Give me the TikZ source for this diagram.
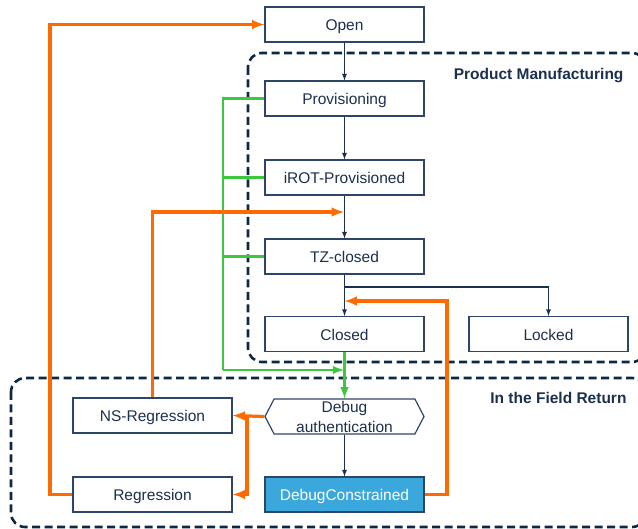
\documentclass[tikz,border=0pt]{standalone}
\usepackage{fontspec}
\setmainfont{Liberation Sans}
\usepackage{xcolor}
\usepackage{tikz}
\usetikzlibrary{shapes.symbols}
\definecolor{navy}{HTML}{1B2F4F}
\definecolor{regionblue}{HTML}{0E2841}
\definecolor{boxblue}{HTML}{2E4468}
\definecolor{stgreen}{HTML}{3CC83C}
\definecolor{storange}{HTML}{FF6A00}
\definecolor{dbgfill}{HTML}{3AA8DC}

\begin{document}
\begin{tikzpicture}[
    x = 1pt, y = -1pt,
    every node/.style = {font=\fontsize{15.5}{20}\selectfont, text=navy},
    box/.style        = {draw=boxblue, line width=1.2pt, minimum width=159pt, minimum height=35pt, inner sep=0pt},
    state/.style      = {box, text height=13pt, text depth=0pt},
    authbox/.style    = {box, shape=signal, signal to=west and east, signal pointer angle=125, align=center},
    region/.style     = {draw=regionblue, line width=2.6pt, dash pattern=on 8pt off 4.5pt, rounded corners=14pt},
    regionlabel/.style= {font=\fontsize{15.5}{19}\selectfont\bfseries, anchor=east},
    flow/.style       = {draw=navy, line width=1.2pt, -latex},
    greenflow/.style  = {draw=stgreen, line width=2.8pt},
    orangeflow/.style = {draw=storange, line width=3.2pt}
  ]
\useasboundingbox (0,0) rectangle (638,529);
\clip (0,0) rectangle (638,529);

\draw[region] (248,53) rectangle (646,362);
\draw[region] (11,378) rectangle (646,527);
\node[regionlabel] (pmlabel) at (627,75.5) {Product Manufacturing};
\node[regionlabel] (frlabel) at (630,398) {In the Field Return};

\node[state] (open)     at (344.5,24.5)  {Open};
\node[state] (prov)     at (344.5,98.5)  {Provisioning};
\node[state] (irot)     at (344.5,177.5) {iROT-Provisioned};
\node[state] (tzclosed) at (344.5,256.5) {TZ-closed};
\node[state] (closed)   at (344.5,334)   {Closed};
\node[state] (locked)   at (548.5,334)   {Locked};
\node[authbox] (dbgauth) at (344.5,416.5) {Debug\\authentication};
\node[state] (nsreg)    at (152.5,415.5) {NS-Regression};
\node[state] (reg)      at (152.5,494.5) {Regression};
\node[state, fill=dbgfill, text=white] (dbgcons) at (344.5,494.5) {DebugConstrained};

\coordinate (gbus)    at (223,370);
\coordinate (gjoin)   at (344,370);
\coordinate (oleft)   at (50,24.5);
\coordinate (oirot)   at (344,212);
\coordinate (osplit)  at (247,415.5);
\coordinate (oback)   at (447,301);
\coordinate (oclosed) at (344.5,301);
\coordinate (lockbr)  at (344.5,287);

\draw[greenflow] (prov.west) -| (gbus);
\draw[greenflow] (irot.west) -- (irot.west -| gbus);
\draw[greenflow] (tzclosed.west) -- (tzclosed.west -| gbus);
\draw[greenflow, -latex] (gbus) -- (gjoin);
\draw[greenflow, -latex] (closed) -- (dbgauth.north);

\draw[orangeflow, -latex] (reg.west) -| (oleft) -- (open.west);
\draw[orangeflow, -latex] (nsreg.north) |- (oirot);
\draw[orangeflow, -latex] (dbgauth.west) -- (nsreg.east);
\draw[orangeflow, -latex] (osplit) |- (reg.east);
\draw[orangeflow, -latex] (dbgcons.east) -| (oback) -- (oclosed);

\draw[flow] (open) -- (prov);
\draw[flow] (prov) -- (irot);
\draw[flow] (irot) -- (tzclosed);
\draw[flow] (tzclosed) -- (closed);
\draw[flow] (lockbr) -| (locked);
\draw[flow] (dbgauth.south) -- (dbgcons);
\end{tikzpicture}
\end{document}
